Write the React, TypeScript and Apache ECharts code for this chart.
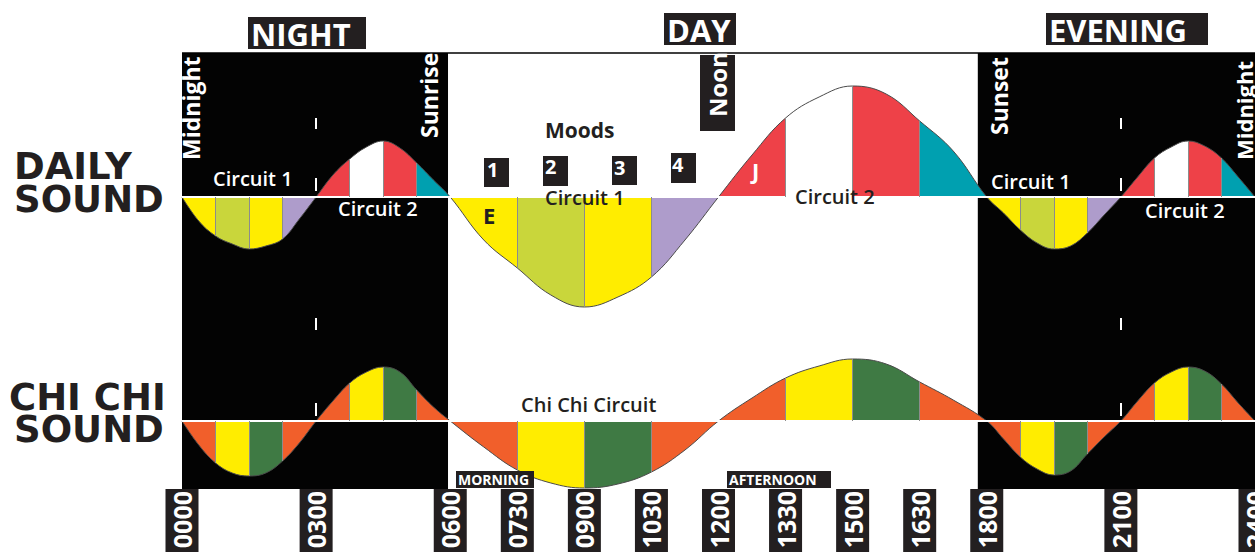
import React, { useEffect, useRef } from "react";
import * as echarts from "echarts";

// ---------- data ----------
const waveHours = [
  0, 0.375, 0.75, 1.125, 1.5, 1.875, 2.25, 2.625,
  3, 3.375, 3.75, 4.125, 4.5, 4.875, 5.25, 5.625,
  6, 6.75, 7.5, 8.25, 9, 9.75, 10.5, 11.25,
  12, 12.75, 13.5, 14.25, 15, 15.75, 16.5, 17.25,
  18, 18.375, 18.75, 19.125, 19.5, 19.875, 20.25, 20.625,
  21, 21.375, 21.75, 22.125, 22.5, 22.875, 23.25, 23.625,
  24,
];

const dailySound = [
  0, -24, -39, -47, -52, -49, -42, -22,
  0, 22, 38, 50, 56, 49, 34, 17,
  0, -43, -71, -98, -110, -100, -80, -43,
  0, 42, 79, 100, 111, 103, 76, 46,
  0, -16, -33, -46, -52, -49, -36, -18,
  0, 20, 39, 50, 56, 51, 39, 20,
  0,
];

const chiChiSound = [
  0, -24, -42, -52, -55, -52, -40, -22,
  0, 20, 38, 49, 54, 49, 31, 14,
  0, -26, -49, -62, -67, -63, -51, -29,
  0, 23, 43, 55, 62, 57, 39, 21,
  0, -18, -36, -48, -54, -50, -33, -16,
  0, 20, 38, 49, 54, 50, 37, 18,
  0,
];

const lobeBounds = [0, 3, 6, 12, 18, 21, 24];
const circuit1Colors = ["#ffed00", "#c9d63b", "#ffed00", "#ae9ccb"];
const circuit2Colors = ["#ee4148", "#ffffff", "#ee4148", "#00a0b0"];
const chiChiColors = ["#f15f2b", "#ffed00", "#3f7a44", "#f15f2b"];

const tickHours = [0, 3, 6, 7.5, 9, 10.5, 12, 13.5, 15, 16.5, 18, 21, 24];
const tickLabels = ["0000", "0300", "0600", "0730", "0900", "1030", "1200", "1330", "1500", "1630", "1800", "2100", "2400"];

const nightPanels = [[0, 5.95], [17.8, 24]];
// [hour, from, to] small white tick marks
const dailyTickMarks = [[3, 79, 68], [3, 19, 6], [21, 79, 68], [21, 19, 6]];
const chiChiTickMarks = [[3, 103, 91], [3, 18, 5], [21, 103, 91], [21, 18, 5]];

// ---------- helpers ----------
const FONT = "'Open Sans', 'Noto Sans', sans-serif";
const HEAVY = "'DejaVu Sans', sans-serif";
const INK = "#231f20";

function pieces(lobeColors: (i: number) => string[]) {
  const out: any[] = [];
  for (let i = 0; i < lobeBounds.length - 1; i++) {
    const a = lobeBounds[i];
    const w = (lobeBounds[i + 1] - a) / 4;
    const cols = lobeColors(i);
    for (let j = 0; j < 4; j++) {
      const last = i === lobeBounds.length - 2 && j === 3;
      const p: any = { gte: a + j * w, color: cols[j] };
      if (last) p.lte = a + (j + 1) * w;
      else p.lt = a + (j + 1) * w;
      out.push(p);
    }
  }
  return out;
}

function points(vals: number[]) {
  return waveHours.map((h, i) => [h, vals[i]]);
}

function dividers(vals: number[]) {
  const out: any[] = [];
  waveHours.forEach((h, i) => {
    if (i % 8 !== 0 && i % 2 === 0) {
      out.push([
        { coord: [h, 0], lineStyle: { color: "#8c8c8c", width: 1, type: "solid" } },
        { coord: [h, vals[i]] },
      ]);
    }
  });
  return out;
}

function tickLines(marks: number[][]) {
  return marks.map(([h, a, b]) => [
    { coord: [h, a], lineStyle: { color: "#ffffff", width: 2, type: "solid" } },
    { coord: [h, b] },
  ]);
}

function panelAreas() {
  return nightPanels.map(([a, b]) => [{ xAxis: a }, { xAxis: b }]);
}

function R(x: number, y: number, w: number, h: number, fill = INK) {
  return { type: "rect", z: 100, silent: true, shape: { x, y, width: w, height: h }, style: { fill } };
}

function T(text: string, x: number, y: number, size: number, weight: any, fill: string, family = FONT, rotate = false, lh?: number) {
  const style: any = {
    text,
    fill,
    fontSize: size,
    fontWeight: weight,
    fontFamily: family,
    align: "left",
    verticalAlign: "middle",
    textAlign: "left",
    textVerticalAlign: "middle",
  };
  if (lh) style.lineHeight = lh;
  return {
    type: "text",
    z: 101,
    silent: true,
    x,
    y,
    rotation: rotate ? Math.PI / 2 : 0,
    style,
  };
}

function buildOption() {
  const graphics = [
    R(248, 17, 118, 32), T("NIGHT", 251, 33.5, 31, 700, "#fff"),
    R(664, 13, 72, 32), T("DAY", 667, 29.5, 31, 700, "#fff"),
    R(1046, 13, 162, 32), T("EVENING", 1049, 29.5, 31, 700, "#fff"),

    T("DAILY", 14, 166, 37, 700, INK, HEAVY, false, 30),
    T("SOUND", 14, 199, 37, 700, INK, HEAVY, false, 30),
    T("CHI CHI", 9, 397.5, 37, 700, INK, HEAVY, false, 30),
    T("SOUND", 14, 429.5, 37, 700, INK, HEAVY, false, 30),

    T("Midnight", 191, 160, 23, 700, "#fff", FONT, true),
    T("Sunrise", 429, 138, 23, 700, "#fff", FONT, true),
    T("Sunset", 999, 135, 23, 700, "#fff", FONT, true),
    T("Midnight", 1243.5, 160, 22, 700, "#fff", FONT, true),
    R(700, 55, 35, 76), T("Noon", 717.5, 117, 24, 700, "#fff", FONT, true),

    T("Circuit 1", 213, 178.5, 20, 600, "#fff"),
    T("Circuit 2", 338, 208.5, 20, 600, "#fff"),
    T("Moods", 545, 130, 21, 700, INK),
    T("Circuit 1", 545, 197, 20, 600, INK),
    T("Circuit 2", 795, 196, 20, 600, INK),
    T("Circuit 1", 991, 181, 20, 600, "#fff"),
    T("Circuit 2", 1145, 210, 20, 600, "#fff"),
    T("Chi Chi Circuit", 521, 404.5, 20, 600, INK),

    R(484, 158, 25, 29), T("1", 487, 169, 20, 700, "#fff"),
    R(543, 156, 25, 30), T("2", 545, 166, 20, 700, "#fff"),
    R(612, 156, 25, 29), T("3", 614, 167.5, 20, 700, "#fff"),
    R(671, 153, 25, 30), T("4", 672, 164, 20, 700, "#fff"),
    T("E", 483, 215, 22, 700, INK),
    T("J", 752, 170, 22, 700, "#fff"),

    R(456, 471, 78, 17), T("MORNING", 458, 479.5, 14, 700, "#fff"),
    R(727, 471, 104, 17), T("AFTERNOON", 729, 479.5, 14, 700, "#fff"),
  ];

  const waveSeries = (vals: number[], gi: number, marks: number[][], extraLines: any[]) => ({
    type: "line",
    xAxisIndex: gi,
    yAxisIndex: gi,
    data: points(vals),
    smooth: 0.4,
    symbol: "none",
    showSymbol: false,
    silent: true,
    z: 2,
    lineStyle: { color: "#4a4a4a", width: 1 },
    areaStyle: { opacity: 1 },
    markArea: {
      silent: true,
      itemStyle: { color: "#030303", opacity: 1, borderWidth: 0 },
      data: panelAreas(),
    },
    markLine: {
      silent: true,
      symbol: ["none", "none"],
      label: { show: false },
      data: [
        ...extraLines,
        { yAxis: 0, lineStyle: { color: "#ffffff", width: 2, type: "solid" } },
        ...dividers(vals),
        ...tickLines(marks),
      ],
    },
  });

  return {
    animation: false,
    backgroundColor: "#ffffff",
    grid: [
      { left: 182, right: 0, top: 53, height: 264, containLabel: false, outerBoundsMode: "none" },
      { left: 182, right: 0, top: 317, height: 172, containLabel: false, outerBoundsMode: "none" },
    ],
    xAxis: [
      { type: "value", gridIndex: 0, min: 0, max: 24, show: false },
      {
        type: "value",
        gridIndex: 1,
        min: 0,
        max: 24,
        axisLine: { show: false },
        axisTick: { show: false },
        splitLine: { show: false },
        axisLabel: {
          customValues: tickHours,
          interval: 0,
          hideOverlap: false,
          showMinLabel: true,
          showMaxLabel: true,
          rotate: 90,
          margin: 0,
          color: "#ffffff",
          fontFamily: FONT,
          fontWeight: "bold",
          fontSize: 25,
          lineHeight: 25,
          backgroundColor: INK,
          padding: [4, 2, 4, 14],
          formatter: (v: number) => {
            const k = tickHours.indexOf(v);
            return k >= 0 ? tickLabels[k] : "";
          },
        },
      },
    ],
    yAxis: [
      { type: "value", gridIndex: 0, min: -120, max: 144, show: false },
      { type: "value", gridIndex: 1, min: -68, max: 104, show: false },
    ],
    visualMap: [
      {
        type: "piecewise",
        show: false,
        dimension: 0,
        seriesIndex: 0,
        pieces: pieces((i) => (i % 2 === 0 ? circuit1Colors : circuit2Colors)),
        outOfRange: { color: "#999999" },
      },
      {
        type: "piecewise",
        show: false,
        dimension: 0,
        seriesIndex: 1,
        pieces: pieces(() => chiChiColors),
        outOfRange: { color: "#999999" },
      },
    ],
    series: [
      waveSeries(dailySound, 0, dailyTickMarks, [
        { yAxis: 144, lineStyle: { color: "#000000", width: 1.5, type: "solid" } },
      ]),
      waveSeries(chiChiSound, 1, chiChiTickMarks, []),
    ],
    graphic: { elements: graphics },
  };
}

export default function App() {
  const ref = useRef<HTMLDivElement>(null);
  useEffect(() => {
    if (!ref.current) return;
    const chart = echarts.init(ref.current, undefined, { renderer: "svg" });
    chart.setOption(buildOption() as any);
    return () => chart.dispose();
  }, []);
  return (
    <div
      ref={ref}
      style={{ position: "absolute", left: 0, top: 0, width: 1255, height: 552, background: "#fff" }}
    />
  );
}
